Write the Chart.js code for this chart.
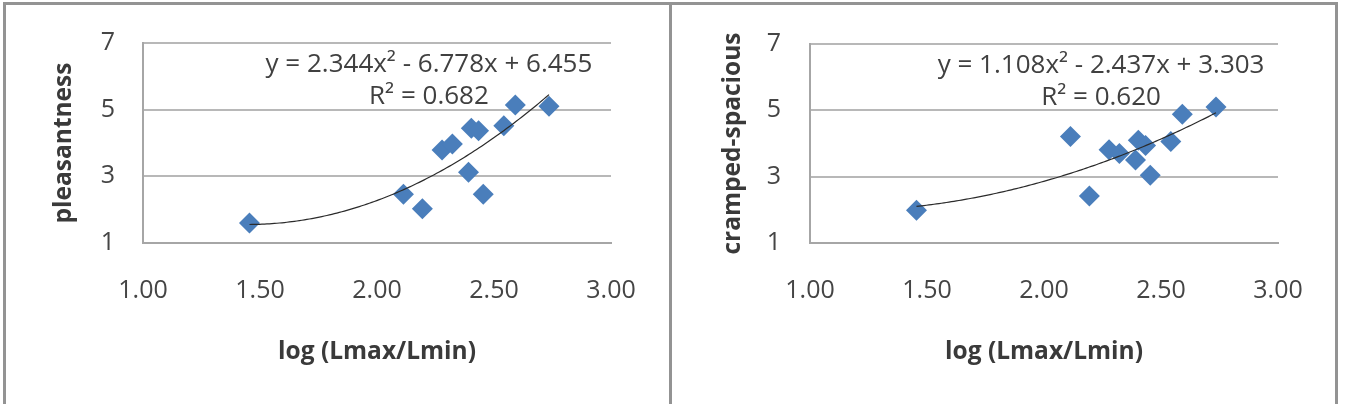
<!DOCTYPE html>
<html>
<head>
<meta charset="utf-8">
<script src="https://cdn.jsdelivr.net/npm/chart.js"></script>
<style>
  html, body { margin: 0; padding: 0; background: #fff; }
  body { width: 1350px; height: 404px; position: relative; overflow: hidden; }
  canvas { position: absolute; top: 0; }
  #c1 { left: 0; }
  #c2 { left: 670px; }
  .frame { position: absolute; left: 3px; top: 2px; width: 1335px; height: 430px;
           border: 3px solid #939393; border-bottom: none; box-sizing: border-box; }
  .divider { position: absolute; left: 669px; top: 2px; width: 3px; height: 430px; background: #939393; }
</style>
</head>
<body>
<canvas id="c1" width="670" height="404"></canvas>
<canvas id="c2" width="670" height="404"></canvas>
<div class="frame"></div>
<div class="divider"></div>
<script>
// ---- data ----
const logRatio = [1.455, 2.113, 2.194, 2.278, 2.322, 2.391, 2.403, 2.434, 2.454, 2.542, 2.591, 2.735];
const pleasantness = [1.60, 2.46, 2.03, 3.79, 3.97, 3.12, 4.44, 4.37, 2.46, 4.52, 5.14, 5.10];
const crampedSpacious = [1.99, 4.21, 2.42, 3.81, 3.70, 3.50, 4.10, 3.94, 3.04, 4.06, 4.88, 5.10];
const xTicks = [1.00, 1.50, 2.00, 2.50, 3.00];
const yTicks = [1, 3, 5, 7];
const xTitle = 'log (Lmax/Lmin)';
const yTitles = ['pleasantness', 'cramped-spacious'];
const trendCoefLeft = [2.344, -6.778, 6.455];
const trendCoefRight = [1.108, -2.437, 3.303];
const trendTextLeft = ['y = 2.344x\u00B2 - 6.778x + 6.455', 'R\u00B2 = 0.682'];
const trendTextRight = ['y = 1.108x\u00B2 - 2.437x + 3.303', 'R\u00B2 = 0.620'];

const FONT = "'Open Sans', Lato, 'DejaVu Sans', sans-serif";

const trendPlugin = {
  id: 'trend',
  afterDatasetsDraw(chart, args, opts) {
    const { ctx } = chart;
    const xs = chart.scales.x, ys = chart.scales.y;
    const pts = chart.data.datasets[0].data.map(p => p.x);
    const x0 = Math.min(...pts), x1 = Math.max(...pts);
    const c = opts.coef;
    ctx.save();
    ctx.beginPath();
    const n = 120;
    for (let i = 0; i <= n; i++) {
      const xv = x0 + (x1 - x0) * i / n;
      const yv = c[0] * xv * xv + c[1] * xv + c[2];
      const px = xs.getPixelForValue(xv), py = ys.getPixelForValue(yv);
      if (i === 0) ctx.moveTo(px, py); else ctx.lineTo(px, py);
    }
    ctx.strokeStyle = '#2b2b2b';
    ctx.lineWidth = 1.2;
    ctx.stroke();
    ctx.font = opts.font;
    ctx.fillStyle = '#404040';
    ctx.textAlign = 'center';
    ctx.textBaseline = 'middle';
    opts.text.forEach((t, i) => {
      ctx.fillText(t, xs.getPixelForValue(opts.anchorX), ys.getPixelForValue(opts.anchorY[i]));
    });
    ctx.restore();
  }
};

function makeChart(id, yValues, yTitle, coef, text, geo) {
  const pts = logRatio.map((x, i) => ({ x: x, y: yValues[i] }));
  return new Chart(document.getElementById(id), {
    type: 'scatter',
    data: {
      datasets: [{
        data: pts,
        pointStyle: 'rectRot',
        pointRadius: 10.5,
        pointHoverRadius: 10.5,
        backgroundColor: '#4a7ebb',
        borderColor: '#4a7ebb',
        borderWidth: 0
      }]
    },
    options: {
      responsive: false,
      animation: false,
      devicePixelRatio: 1,
      layout: { autoPadding: false, padding: { left: 0, right: geo.padRight, top: 36, bottom: 0 } },
      plugins: {
        legend: { display: false },
        tooltip: { enabled: false },
        trend: { coef: coef, text: text, anchorX: geo.labelX, anchorY: [6.34, 5.39], font: "26px " + FONT }
      },
      scales: {
        x: {
          type: 'linear', min: 1, max: 3,
          afterBuildTicks: s => { s.ticks = xTicks.map(v => ({ value: v })); },
          afterFit: s => { s.height = 404 - 243; },
          grid: { display: false, drawTicks: false },
          border: { display: true, color: '#a6a6a6', width: 2 },
          ticks: { padding: 33, color: '#454545', font: { family: FONT, size: 25 },
                   callback: v => Number(v).toFixed(2), maxRotation: 0 },
          title: { display: true, text: xTitle, color: '#3a3a3a',
                   font: { family: FONT, size: 24.5, weight: 'bold' }, padding: { top: 0, bottom: 37 } }
        },
        y: {
          type: 'linear', min: 1, max: 7,
          afterBuildTicks: s => { s.ticks = yTicks.map(v => ({ value: v })); },
          afterFit: s => { s.width = geo.yWidth; },
          grid: { color: '#b8b8b8', lineWidth: 2, drawTicks: false },
          border: { display: true, color: '#a6a6a6', width: 2 },
          ticks: { padding: geo.tickPad, color: '#454545', font: { family: FONT, size: 25 } },
          title: { display: true, text: yTitle, color: '#3a3a3a',
                   font: { family: FONT, size: 24.5, weight: 'bold' }, padding: { top: geo.titlePad, bottom: 0 } }
        }
      }
    },
    plugins: [trendPlugin]
  });
}

makeChart('c1', pleasantness, yTitles[0], trendCoefLeft, trendTextLeft,
  { padRight: 59, yWidth: 143, tickPad: 28, titlePad: 49, labelX: 2.222 });
makeChart('c2', crampedSpacious, yTitles[1], trendCoefRight, trendTextRight,
  { padRight: 62, yWidth: 140, tickPad: 29, titlePad: 48, labelX: 2.244 });
</script>
</body>
</html>
